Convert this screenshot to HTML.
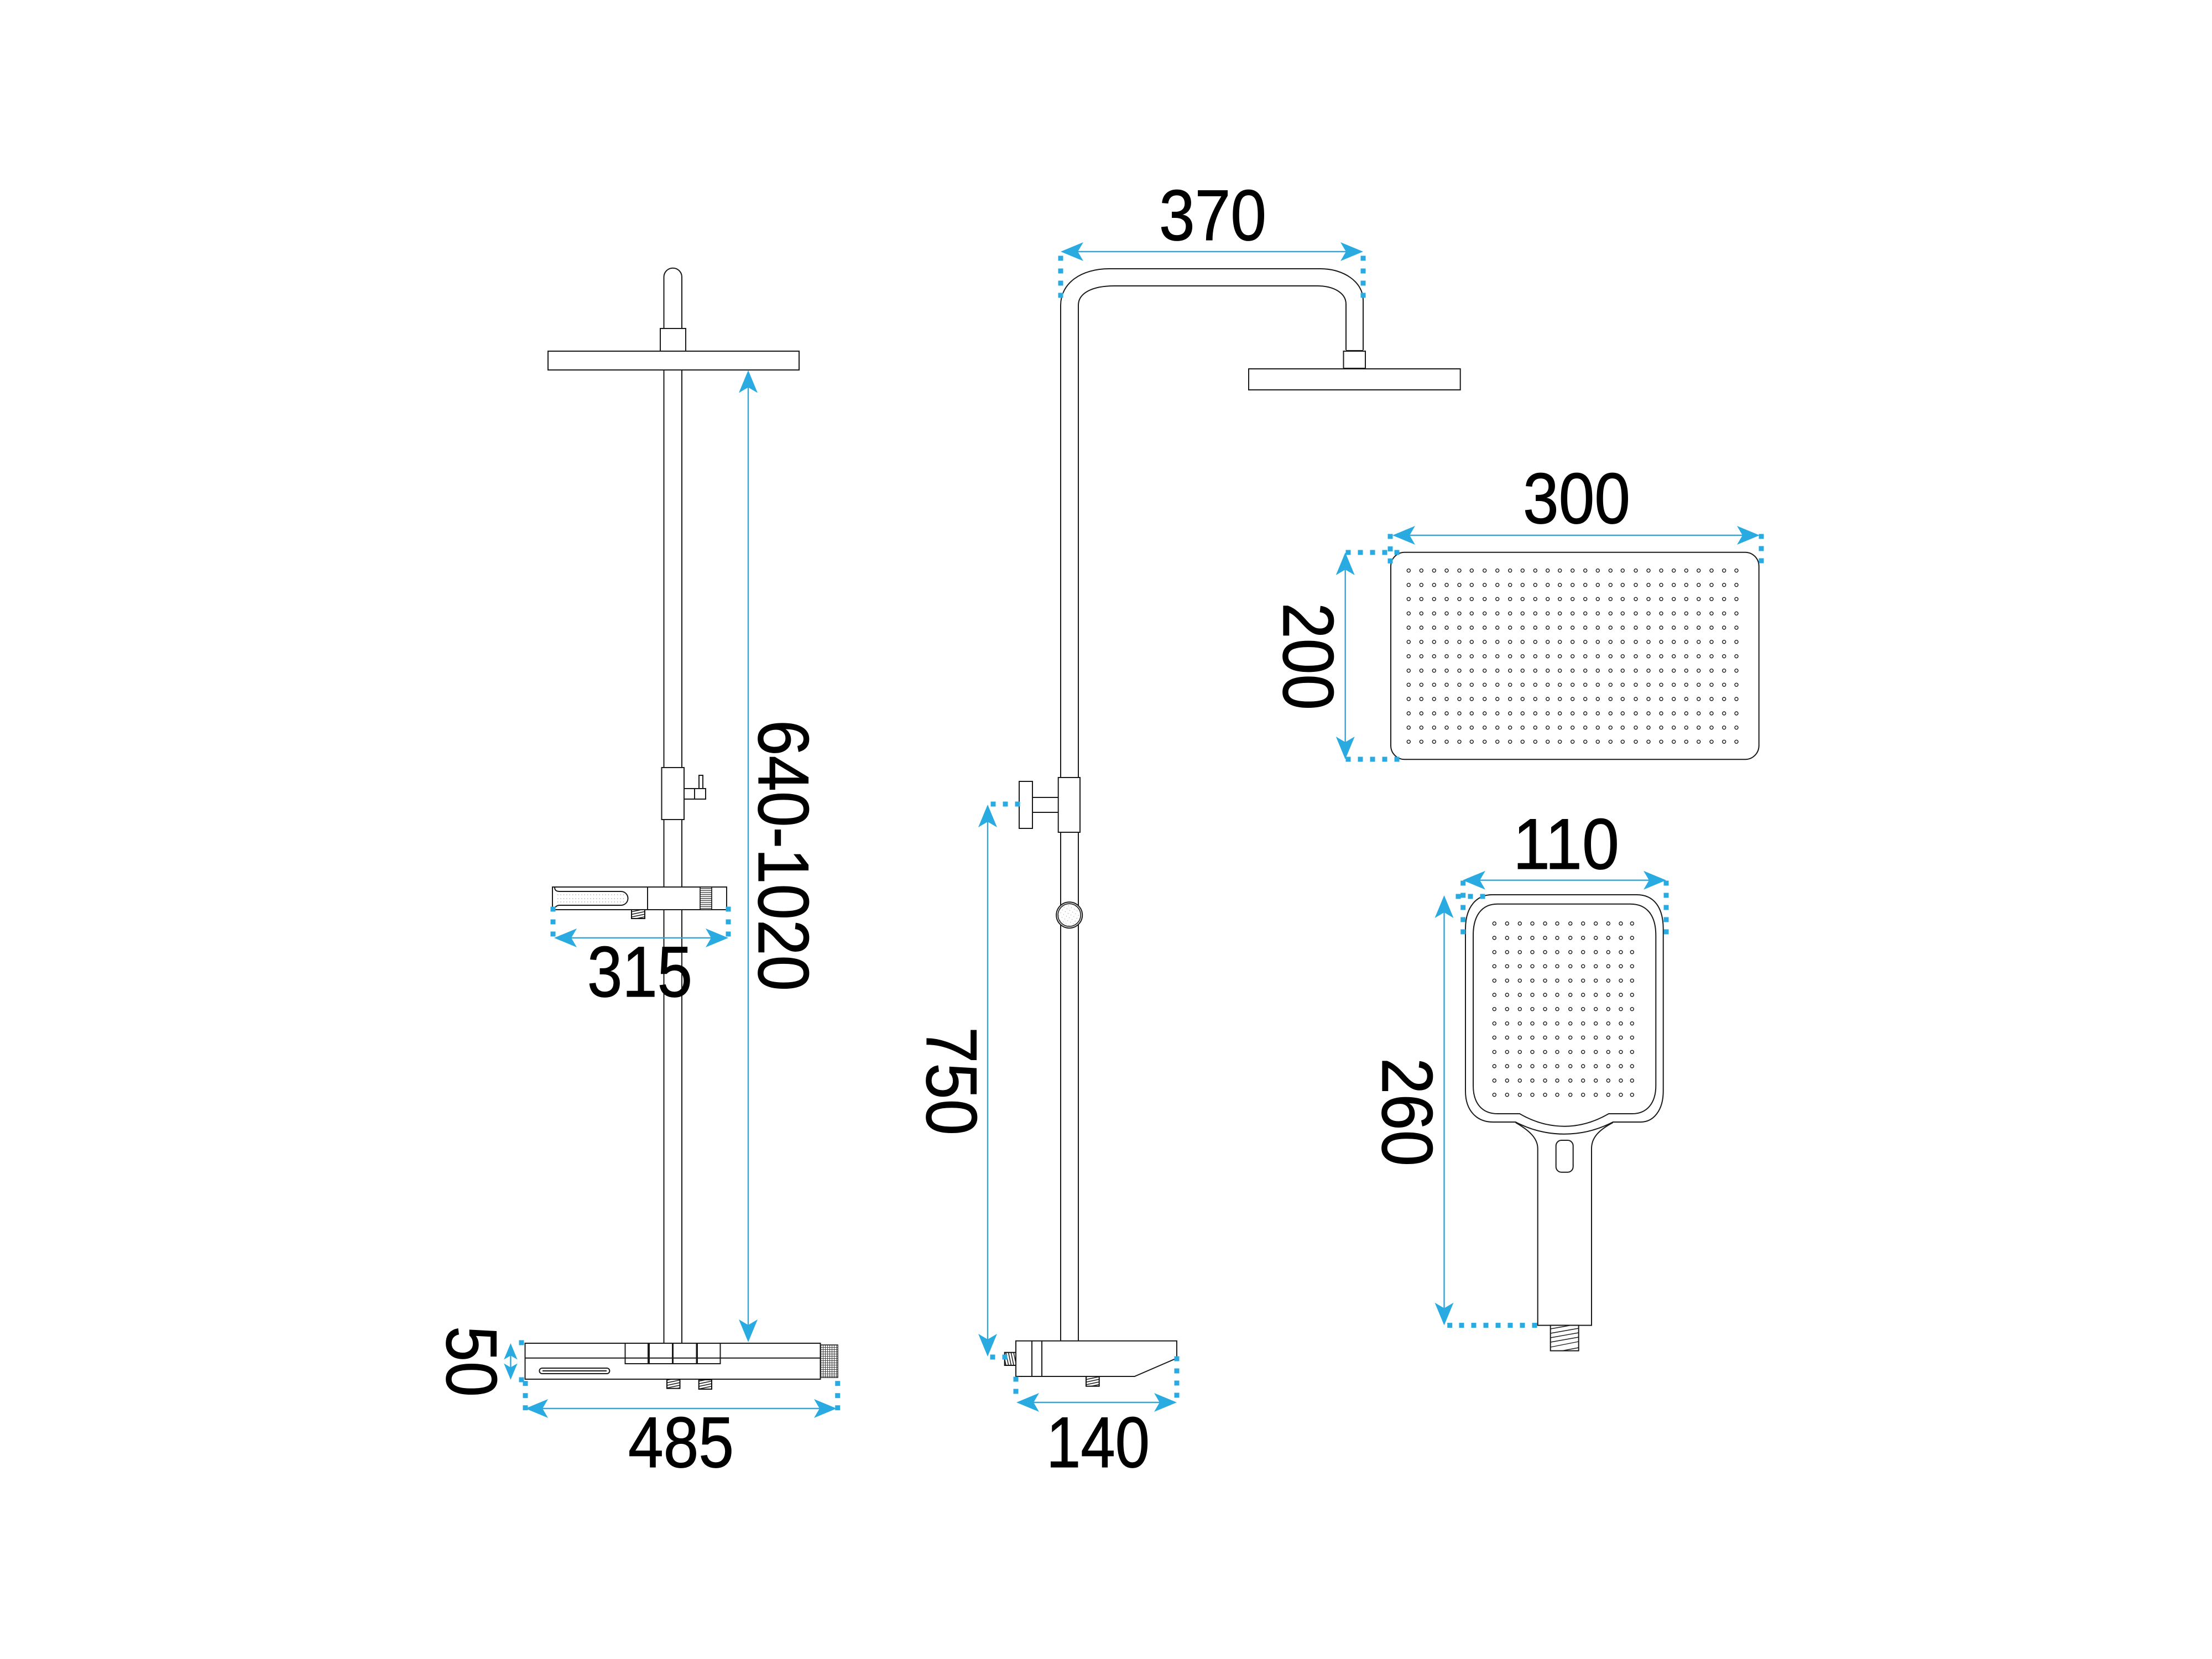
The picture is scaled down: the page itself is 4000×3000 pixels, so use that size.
<!DOCTYPE html>
<html lang="en">
<head>
<meta charset="utf-8">
<title>Shower set dimensions</title>
<style>
html,body{margin:0;padding:0;background:#fff;width:4000px;height:3000px;overflow:hidden}
svg{display:block}
text{font-family:"Liberation Sans",sans-serif;font-size:130px;fill:#000;stroke:#000;stroke-width:1.2}
.l{fill:#fff;stroke:#1a1a1a;stroke-width:2}
.n{fill:none;stroke:#1a1a1a;stroke-width:2}
.t{fill:none;stroke:#1a1a1a;stroke-width:1.4}
.d{stroke:#3aa3d2;stroke-width:2.4;fill:none}
</style>
</head>
<body>
<svg width="4000" height="3000" viewBox="0 0 4000 3000" xmlns="http://www.w3.org/2000/svg">
<defs>
  <polygon id="a" points="0,0 17,41 0,31 -17,41" fill="#29abe2"/>
  <rect id="s" x="-4.5" y="-4.5" width="9" height="9" fill="#29abe2"/>
  <pattern id="hatch" width="12" height="4.6" patternUnits="userSpaceOnUse" patternTransform="rotate(-12)">
    <rect width="12" height="4.6" fill="#fff"/><line x1="0" y1="1" x2="12" y2="1" stroke="#111" stroke-width="1.5"/>
  </pattern>
  <pattern id="hatchv" width="4.6" height="12" patternUnits="userSpaceOnUse" patternTransform="rotate(-12)">
    <rect width="4.6" height="12" fill="#fff"/><line x1="1" y1="0" x2="1" y2="12" stroke="#111" stroke-width="1.5"/>
  </pattern>
  <pattern id="rib" width="10" height="3.6" patternUnits="userSpaceOnUse">
    <rect width="10" height="3.6" fill="#fff"/><line x1="0" y1="1" x2="10" y2="1" stroke="#222" stroke-width="1.2"/>
  </pattern>
  <pattern id="mesh" width="4" height="4" patternUnits="userSpaceOnUse">
    <rect width="4" height="4" fill="#fff"/><path d="M0,.5H4M.5,0V4" stroke="#444" stroke-width="1"/>
  </pattern>
  <pattern id="spk" width="6" height="6" patternUnits="userSpaceOnUse" patternTransform="rotate(30)">
    <rect width="6" height="6" fill="#fff"/><rect x="2" y="2" width="1" height="1" fill="#888"/>
  </pattern>
  <g id="r1" class="t">
    <circle cx="2547.3" r="3"/><circle cx="2570.3" r="3"/><circle cx="2593.3" r="3"/><circle cx="2616" r="3"/><circle cx="2639" r="3"/><circle cx="2661.3" r="3"/><circle cx="2684.7" r="3"/><circle cx="2707.7" r="3"/><circle cx="2730.7" r="3"/><circle cx="2753.3" r="3"/><circle cx="2776.3" r="3"/><circle cx="2798.7" r="3"/><circle cx="2820.7" r="3"/><circle cx="2843.7" r="3"/><circle cx="2866.7" r="3"/><circle cx="2889.3" r="3"/><circle cx="2912.3" r="3"/><circle cx="2934.3" r="3"/><circle cx="2958" r="3"/><circle cx="2981" r="3"/><circle cx="3004" r="3"/><circle cx="3026.7" r="3"/><circle cx="3049.3" r="3"/><circle cx="3071.7" r="3"/><circle cx="3095" r="3"/><circle cx="3117.7" r="3"/><circle cx="3140" r="3"/>
  </g>
  <g id="r2" class="t">
    <circle cx="2702.3" r="3"/><circle cx="2725.3" r="3"/><circle cx="2748.3" r="3"/><circle cx="2771" r="3"/><circle cx="2794" r="3"/><circle cx="2816" r="3"/><circle cx="2839.7" r="3"/><circle cx="2862.7" r="3"/><circle cx="2885.7" r="3"/><circle cx="2908.3" r="3"/><circle cx="2931" r="3"/><circle cx="2951.3" r="3"/>
  </g>
</defs>

<!-- FRONT VIEW -->
<path class="l" d="M1200.5,2429V501a16.2,16.2 0 0 1 32.5,0V2429"/>
<rect class="l" x="1194" y="594" width="46" height="41"/>
<rect class="l" x="991" y="635" width="454" height="34"/>
<rect class="l" x="1196.5" y="1388" width="40.5" height="94"/>
<rect class="l" x="1264" y="1402" width="7" height="24"/>
<rect class="l" x="1237" y="1426" width="19" height="19"/>
<rect class="l" x="1256" y="1426" width="20" height="19"/>
<rect x="1142" y="1645" width="24" height="16" fill="url(#hatch)" stroke="#111" stroke-width="2"/>
<rect class="l" x="999" y="1604" width="315" height="41"/>
<line class="n" x1="1171" y1="1604" x2="1171" y2="1645"/>
<rect x="1266" y="1604" width="21" height="41" fill="url(#rib)" stroke="#111" stroke-width="1.6"/>
<path class="n" d="M1003,1604C1003,1610 1006,1612 1012,1612H1123A12.5,12.5 0 0 1 1123,1637H1012C1006,1637 1003,1641 1001,1645"/>
<path fill="none" stroke="#999" stroke-width="1.2" stroke-dasharray="1.4 4" d="M1008,1618H1131M1008,1625H1131M1008,1631H1131"/>
<rect class="l" x="949.5" y="2429" width="534" height="65"/>
<line class="n" x1="949.5" y1="2455.7" x2="1483.5" y2="2455.7"/>
<rect class="n" x="1130.5" y="2429" width="41.5" height="37"/>
<rect class="n" x="1174" y="2429" width="42" height="37"/>
<rect class="n" x="1217" y="2429" width="42.5" height="37"/>
<rect class="n" x="1261" y="2429" width="41.5" height="37"/>
<rect class="n" x="975.4" y="2474" width="127" height="10" rx="5"/>
<line class="n" x1="981" y1="2479" x2="1097" y2="2479"/>
<rect x="1484" y="2432" width="31" height="59" fill="url(#mesh)" stroke="#222" stroke-width="1.5"/>
<rect x="1206" y="2494" width="23.5" height="16.7" fill="url(#hatch)" stroke="#111" stroke-width="2"/>
<rect x="1263.7" y="2495" width="23.3" height="17" fill="url(#hatch)" stroke="#111" stroke-width="2"/>

<!-- SIDE VIEW -->
<path class="n" d="M1918,2425V552C1918,512 1955,486 2006,486H2388C2430,486 2465,510 2465,543V633"/>
<path class="n" d="M1950,2425V552C1950,530 1975,517 2015,517H2382C2412,517 2434,530 2434,550V633"/>
<line class="n" x1="2434" y1="634" x2="2465" y2="634" stroke-width="3"/>
<rect class="l" x="2429.5" y="635" width="39.5" height="31"/>
<rect class="l" x="2258" y="667" width="382.7" height="38"/>
<line class="n" x1="1867" y1="1442" x2="1914" y2="1442"/>
<line class="n" x1="1867" y1="1469" x2="1914" y2="1469"/>
<rect class="l" x="1843" y="1413" width="24" height="85"/>
<rect class="l" x="1913.7" y="1406" width="39.3" height="99"/>
<circle cx="1933.7" cy="1654.7" r="23.5" class="l"/>
<circle cx="1933.7" cy="1654.7" r="20.5" fill="url(#spk)" stroke="#1a1a1a" stroke-width="1.6"/>
<rect x="1816.7" y="2445.7" width="20.3" height="23.3" fill="url(#hatchv)" stroke="#111" stroke-width="2"/>
<rect x="1964" y="2489" width="23.7" height="17.7" fill="url(#hatch)" stroke="#111" stroke-width="2"/>
<path class="l" d="M1837,2424.7H2128V2456L2051.7,2489H1837Z"/>
<line class="n" x1="1866" y1="2424.7" x2="1866" y2="2489" stroke-width="2.6"/>
<line class="n" x1="1884" y1="2424.7" x2="1884" y2="2489"/>

<!-- SHOWER HEAD TOP -->
<rect class="l" x="2515" y="998.7" width="665.7" height="374.6" rx="25" ry="25"/>
<use href="#r1" y="1031.7"/><use href="#r1" y="1057.7"/><use href="#r1" y="1083.3"/><use href="#r1" y="1109.3"/><use href="#r1" y="1135"/><use href="#r1" y="1160.7"/><use href="#r1" y="1186.7"/><use href="#r1" y="1212.7"/><use href="#r1" y="1238.3"/><use href="#r1" y="1264"/><use href="#r1" y="1290"/><use href="#r1" y="1315.7"/><use href="#r1" y="1341.3"/>

<!-- HAND SHOWER -->
<path class="n" d="M2740.7,2030C2765,2044 2780.7,2058 2780.7,2077V2396.6H2878V2077C2878,2058 2890,2044 2916.7,2030"/>
<path class="l" d="M2650,1680C2650,1640 2670,1618 2698,1618H2960C2990,1618 3007.7,1640 3007.7,1680V1973C3007.7,2008 2990,2029 2966.7,2029H2916.7Q2875,2050.7 2829,2050.7Q2782,2050.7 2740.7,2029H2700C2670,2029 2650,2008 2650,1973Z"/>
<path class="n" d="M2664,1691.7C2664,1655 2680,1634.7 2708,1634.7H2948C2978,1634.7 2994.3,1655 2994.3,1691.7V1963C2994.3,1995 2978,2014 2951.7,2014H2909Q2870,2036.7 2829,2036.7Q2787,2036.7 2748,2014H2708C2680,2014 2664,1995 2664,1963Z"/>
<use href="#r2" y="1670"/><use href="#r2" y="1696"/><use href="#r2" y="1721.7"/><use href="#r2" y="1747.3"/><use href="#r2" y="1773.3"/><use href="#r2" y="1799"/><use href="#r2" y="1824.7"/><use href="#r2" y="1850.7"/><use href="#r2" y="1876.3"/><use href="#r2" y="1902.3"/><use href="#r2" y="1928"/><use href="#r2" y="1954"/><use href="#r2" y="1979.7"/>
<rect class="n" x="2813.7" y="2062" width="31" height="57.7" rx="10"/>
<rect class="l" x="2803.7" y="2396.6" width="51" height="46"/>
<path class="t" d="M2804,2403L2838,2397M2804,2411L2854.7,2402M2804,2419L2854.7,2410M2804,2427L2854.7,2418M2804,2436L2854.7,2426M2825,2442.6L2854.7,2437"/>

<!-- DIMENSION LINES -->
<g class="d">
<line x1="1353" y1="690" x2="1353" y2="2405"/>
<line x1="1030" y1="1696" x2="1290" y2="1696"/>
<line x1="923.4" y1="2450" x2="923.4" y2="2475"/>
<line x1="980" y1="2547" x2="1483" y2="2547"/>
<line x1="1786" y1="1480" x2="1786" y2="2430"/>
<line x1="1868" y1="2536" x2="2098" y2="2536"/>
<line x1="1948" y1="455" x2="2435" y2="455"/>
<line x1="2548" y1="968" x2="3152" y2="968"/>
<line x1="2432.7" y1="1025" x2="2432.7" y2="1347"/>
<line x1="2675" y1="1591.7" x2="2983" y2="1591.7"/>
<line x1="2611.5" y1="1640" x2="2611.5" y2="2368"/>
</g>
<!-- arrowheads -->
<use href="#a" transform="translate(1353,669.5)"/>
<use href="#a" transform="translate(1353,2427) rotate(180)"/>
<use href="#a" transform="translate(1002,1696) rotate(-90)"/>
<use href="#a" transform="translate(1317,1696) rotate(90)"/>
<use href="#a" transform="translate(923.4,2429) scale(.72,.72)"/>
<use href="#a" transform="translate(923.4,2495) rotate(180) scale(.72,.72)"/>
<use href="#a" transform="translate(950,2547) rotate(-90)"/>
<use href="#a" transform="translate(1513,2547) rotate(90)"/>
<use href="#a" transform="translate(1786,1455)"/>
<use href="#a" transform="translate(1786,2453) rotate(180)"/>
<use href="#a" transform="translate(1838,2536) rotate(-90)"/>
<use href="#a" transform="translate(2128,2536) rotate(90)"/>
<use href="#a" transform="translate(1918,455) rotate(-90)"/>
<use href="#a" transform="translate(2465,455) rotate(90)"/>
<use href="#a" transform="translate(2518,968) rotate(-90)"/>
<use href="#a" transform="translate(3182,968) rotate(90)"/>
<use href="#a" transform="translate(2432.7,999)"/>
<use href="#a" transform="translate(2432.7,1373) rotate(180)"/>
<use href="#a" transform="translate(2645,1591.7) rotate(-90)"/>
<use href="#a" transform="translate(3013,1591.7) rotate(90)"/>
<use href="#a" transform="translate(2611.5,1619)"/>
<use href="#a" transform="translate(2611.5,2396.6) rotate(180)"/>
<!-- dotted extension squares -->
<use href="#s" x="1000" y="1644"/><use href="#s" x="1000" y="1667"/><use href="#s" x="1000" y="1689"/>
<use href="#s" x="1317" y="1644"/><use href="#s" x="1317" y="1667"/><use href="#s" x="1317" y="1689"/>
<use href="#s" x="943" y="2428"/><use href="#s" x="943" y="2495"/>
<use href="#s" x="950" y="2501.7"/><use href="#s" x="950" y="2523.7"/><use href="#s" x="950" y="2545.7"/>
<use href="#s" x="1514.7" y="2501.7"/><use href="#s" x="1514.7" y="2523.7"/><use href="#s" x="1514.7" y="2545.7"/>
<use href="#s" x="1796" y="1454"/><use href="#s" x="1818" y="1454"/><use href="#s" x="1840" y="1454"/>
<use href="#s" x="1795" y="2454"/><use href="#s" x="1817" y="2454"/>
<use href="#s" x="1837" y="2494"/><use href="#s" x="1837" y="2516"/>
<use href="#s" x="2128" y="2457"/><use href="#s" x="2128" y="2479"/><use href="#s" x="2128" y="2501"/><use href="#s" x="2128" y="2523"/>
<use href="#s" x="1918" y="467"/><use href="#s" x="1918" y="490"/><use href="#s" x="1918" y="512"/><use href="#s" x="1918" y="534"/>
<use href="#s" x="2465" y="467"/><use href="#s" x="2465" y="490"/><use href="#s" x="2465" y="512"/><use href="#s" x="2465" y="534"/>
<use href="#s" x="2514" y="970"/><use href="#s" x="2514" y="992.6"/><use href="#s" x="2514" y="1014.3"/>
<use href="#s" x="2438" y="999"/><use href="#s" x="2460" y="999"/><use href="#s" x="2482" y="999"/><use href="#s" x="2504" y="999"/><use href="#s" x="2526" y="999"/>
<use href="#s" x="2438" y="1373"/><use href="#s" x="2460" y="1373"/><use href="#s" x="2482" y="1373"/><use href="#s" x="2504" y="1373"/><use href="#s" x="2526" y="1373"/>
<use href="#s" x="3185" y="970"/><use href="#s" x="3185" y="992"/><use href="#s" x="3185" y="1014"/>
<use href="#s" x="2645.7" y="1597"/><use href="#s" x="2645.7" y="1619"/><use href="#s" x="2645.7" y="1641"/><use href="#s" x="2645.7" y="1663"/><use href="#s" x="2645.7" y="1685"/>
<use href="#s" x="3013" y="1597"/><use href="#s" x="3013" y="1619"/><use href="#s" x="3013" y="1641"/><use href="#s" x="3013" y="1663"/><use href="#s" x="3013" y="1685"/>
<use href="#s" x="2637" y="1621"/><use href="#s" x="2659" y="1621"/><use href="#s" x="2681" y="1621"/>
<use href="#s" x="2621.7" y="2396.6"/><use href="#s" x="2643" y="2396.6"/><use href="#s" x="2665" y="2396.6"/><use href="#s" x="2687" y="2396.6"/><use href="#s" x="2709" y="2396.6"/><use href="#s" x="2731" y="2396.6"/><use href="#s" x="2753" y="2396.6"/><use href="#s" x="2775" y="2396.6"/>

<!-- LABELS -->
<text x="2096" y="434" textLength="194" lengthAdjust="spacingAndGlyphs">370</text>
<text x="2754" y="946" textLength="194" lengthAdjust="spacingAndGlyphs">300</text>
<text x="2736" y="1571" textLength="192" lengthAdjust="spacingAndGlyphs">110</text>
<text x="1062" y="1802" textLength="190" lengthAdjust="spacingAndGlyphs">315</text>
<text x="1136" y="2653" textLength="191" lengthAdjust="spacingAndGlyphs">485</text>
<text x="1892" y="2653" textLength="187" lengthAdjust="spacingAndGlyphs">140</text>
<text transform="translate(808,2398) rotate(90)" textLength="128" lengthAdjust="spacingAndGlyphs">50</text>
<text transform="translate(1372,1302) rotate(90)" textLength="490" lengthAdjust="spacingAndGlyphs">640-1020</text>
<text transform="translate(1676,1857) rotate(90)" textLength="196" lengthAdjust="spacingAndGlyphs">750</text>
<text transform="translate(2321,1090) rotate(90)" textLength="194" lengthAdjust="spacingAndGlyphs">200</text>
<text transform="translate(2500,1913) rotate(90)" textLength="196" lengthAdjust="spacingAndGlyphs">260</text>
</svg>
</body>
</html>
